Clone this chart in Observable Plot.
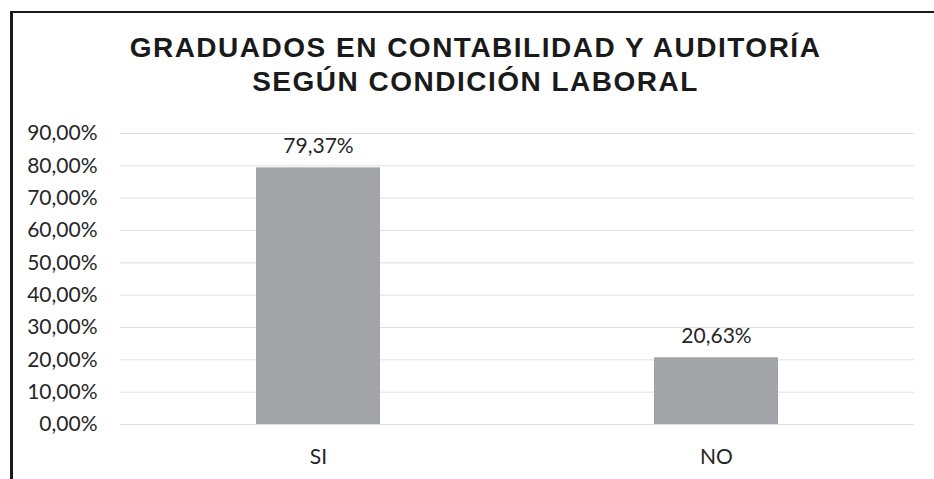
<!DOCTYPE html>
<html>
<head>
<meta charset="utf-8">
<script src="https://cdn.jsdelivr.net/npm/d3@7"></script>
<script src="https://cdn.jsdelivr.net/npm/@observablehq/plot@0.6"></script>
<style>
  html, body { margin: 0; padding: 0; background: #fff; }
  #wrap { position: relative; width: 934px; height: 479px; overflow: hidden; background: #fff; }
  #frame { position: absolute; left: 10px; top: 11px; width: 940px; height: 480px;
           border-top: 2px solid #1a1a1a; border-left: 3px solid #1a1a1a; }
  #title { position: absolute; left: 0; width: 951px; top: 31px; text-align: center;
           font-family: "Liberation Sans", Arial, sans-serif; font-weight: bold; font-size: 28px;
           letter-spacing: 1.5px; line-height: 34px; color: #1a1a1a; }
  #chart { position: absolute; left: 0; top: 100px; }
</style>
</head>
<body>
<div id="wrap">
  <div id="frame"></div>
  <div id="title">GRADUADOS EN CONTABILIDAD Y AUDITORÍA<br>SEGÚN CONDICIÓN LABORAL</div>
  <div id="chart"></div>
</div>
<script>
const categories = ["SI", "NO"];
const values = [0.7937, 0.2063];
const yTicks = [0, 0.1, 0.2, 0.3, 0.4, 0.5, 0.6, 0.7, 0.8, 0.9];

const data = categories.map((c, i) => ({cat: c, val: values[i]}));
const fmt = v => (v * 100).toFixed(2).replace(".", ",") + "%";

const chart = Plot.plot({
  width: 934,
  height: 379,
  marginLeft: 120,
  marginRight: 20,
  marginTop: 33,
  marginBottom: 55,
  style: {fontFamily: "Lato, 'Open Sans', sans-serif", fontSize: "21px", color: "#262626"},
  x: {domain: categories, paddingInner: 0.689, paddingOuter: 0.34, label: null, tickSize: 0, tickPadding: 25},
  y: {domain: [0, 0.9], ticks: yTicks, tickFormat: fmt, label: null, tickSize: 0, tickPadding: 23},
  marks: [
    Plot.gridY(yTicks, {stroke: "#e0e0e0", strokeOpacity: 1, strokeWidth: 1}),
    Plot.barY(data, {x: "cat", y: "val", fill: "#a3a4a7"}),
    Plot.text(data, {x: "cat", y: "val", text: d => fmt(d.val), lineAnchor: "bottom", dy: -15, fill: "#262626"})
  ]
});
document.getElementById("chart").appendChild(chart);
</script>
</body>
</html>
